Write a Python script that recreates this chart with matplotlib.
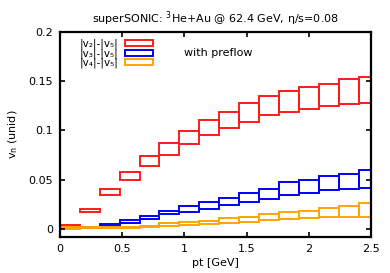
import numpy as np
import matplotlib
matplotlib.use("Agg")
import matplotlib.pyplot as plt
from matplotlib.patches import Rectangle

# pt bin left edges (GeV) and bin width
pt_left = [0.00, 0.16, 0.32, 0.48, 0.64, 0.80, 0.96, 1.12, 1.28, 1.44,
           1.60, 1.76, 1.92, 2.08, 2.24, 2.40]
bin_width = 0.16

v2_low = [0.0016, 0.0168, 0.0344, 0.0496, 0.0638, 0.0750, 0.0858, 0.0952,
          0.1023, 0.1087, 0.1152, 0.1189, 0.1216, 0.1250, 0.1270, 0.1280]
v2_high = [0.0040, 0.0199, 0.0402, 0.0580, 0.0742, 0.0874, 0.0996, 0.1104,
           0.1186, 0.1274, 0.1351, 0.1402, 0.1439, 0.1473, 0.1517, 0.1538]

v3_low = [0.0012, 0.0012, 0.0029, 0.0057, 0.0097, 0.0148, 0.0168, 0.0202,
          0.0239, 0.0273, 0.0308, 0.0347, 0.0364, 0.0398, 0.0408, 0.0415]
v3_high = [0.0022, 0.0022, 0.0049, 0.0090, 0.0131, 0.0185, 0.0232, 0.0270,
           0.0310, 0.0367, 0.0405, 0.0473, 0.0496, 0.0537, 0.0554, 0.0600]

v4_low = [0.0002, 0.0009, 0.0009, 0.0012, 0.0016, 0.0029, 0.0043, 0.0050,
          0.0063, 0.0070, 0.0090, 0.0097, 0.0114, 0.0124, 0.0124, 0.0124]
v4_high = [0.0016, 0.0016, 0.0019, 0.0022, 0.0029, 0.0057, 0.0070, 0.0083,
           0.0108, 0.0124, 0.0148, 0.0168, 0.0185, 0.0215, 0.0229, 0.0266]

labels = ['|v\u2082|-|v\u2085|',
          '|v\u2083|-|v\u2085|',
          '|v\u2084|-|v\u2085|']
colors = ['#ff1a1a', '#0000ff', '#ffa500']

x_ticks = [0, 0.5, 1, 1.5, 2, 2.5]
x_ticklabels = ['0', '0.5', '1', '1.5', '2', '2.5']
y_ticks = [0, 0.05, 0.1, 0.15, 0.2]
y_ticklabels = ['0', '0.05', '0.1', '0.15', '0.2']

fig = plt.figure(figsize=(3.9, 2.73), dpi=100)
ax = fig.add_axes([0.1538, 0.133, 0.7974, 0.751])

series = [(v2_low, v2_high), (v3_low, v3_high), (v4_low, v4_high)]
handles = []
for (lo, hi), c, lab in zip(series, colors, labels):
    lo = np.array(lo)
    hi = np.array(hi)
    ax.bar(pt_left, hi - lo, bottom=lo, width=bin_width, align='edge',
           fill=False, edgecolor=c, linewidth=1.4, clip_on=True)
    handles.append(Rectangle((0, 0), 1, 1, fill=False, edgecolor=c, linewidth=1.4))

ax.set_xlim(0, 2.5)
ax.set_ylim(-0.0078, 0.2)
ax.set_xticks(x_ticks)
ax.set_xticklabels(x_ticklabels)
ax.set_yticks(y_ticks)
ax.set_yticklabels(y_ticklabels)
ax.tick_params(direction='in', length=3.5, width=1.2, top=True, right=True,
               labelsize=8, pad=5)
for s in ax.spines.values():
    s.set_linewidth(1.6)

ax.set_xlabel('pt [GeV]', fontsize=8, labelpad=3)
ax.set_ylabel(r'v$_\mathrm{n}$ (unid)', fontsize=8, labelpad=6)
fig.text(0.552, 0.932, 'superSONIC: $^3$He+Au @ 62.4 GeV, \u03b7/s=0.08',
         ha='center', va='center', fontsize=8)

ax.text(1.0, 0.178, 'with preflow', fontsize=8, ha='left', va='center')

leg = ax.legend(handles, labels, loc='upper right', bbox_to_anchor=(0.322, 1.0),
                frameon=False, fontsize=7.5, markerfirst=False,
                handlelength=2.7, handleheight=0.55, labelspacing=-0.1,
                handletextpad=0.6, borderpad=0.2)

fig.savefig('out.png', dpi=100)
